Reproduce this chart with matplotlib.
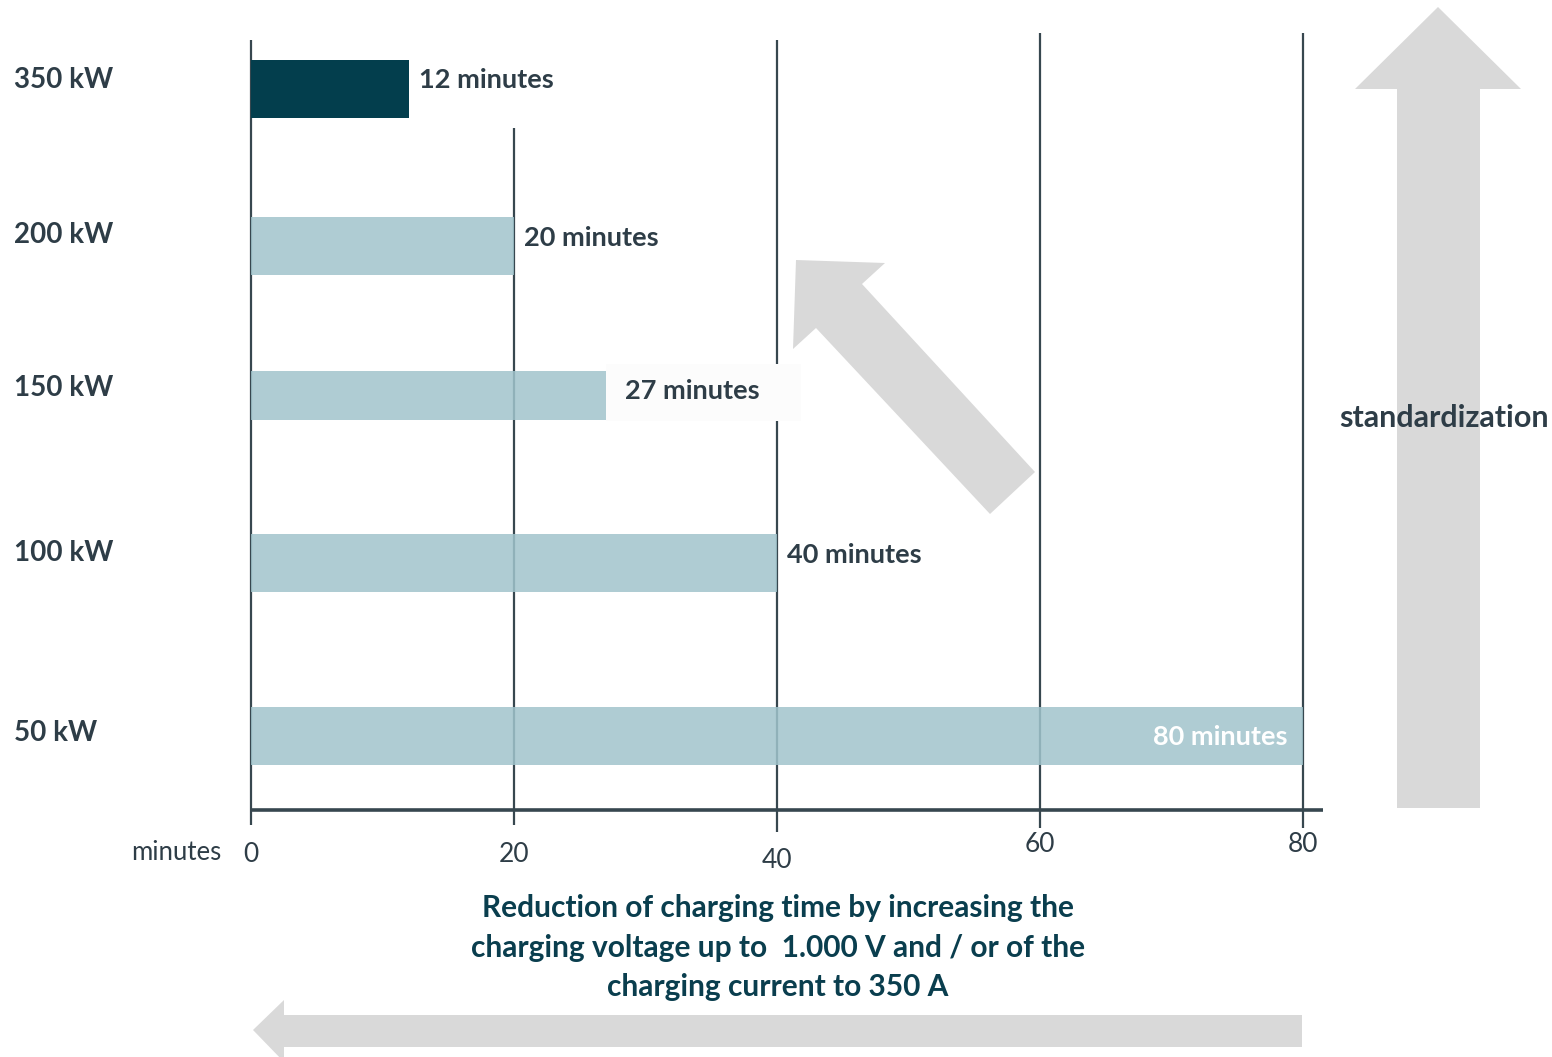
import matplotlib
matplotlib.use("Agg")
import matplotlib.pyplot as plt
from matplotlib.patches import Polygon, Rectangle

# ---- data ----
power_levels = ["350 kW", "200 kW", "150 kW", "100 kW", "50 kW"]
charge_minutes = [12, 20, 27, 40, 80]
tick_values = [0, 20, 40, 60, 80]
axis_unit = "minutes"
title_lines = ["Reduction of charging time by increasing the",
               "charging voltage up to  1.000 V and / or of the",
               "charging current to 350 A"]
side_label = "standardization"

# ---- layout (pixel rows, figure is 1552 x 1057) ----
W, H = 1552, 1057
x0_px, x80_px = 251, 1303
row_y = [89, 246, 395, 563, 736]
row_h = [58, 58, 49, 58, 58]
label_y = [80, 238, 391, 555, 737]
cat_y = [80, 235, 388, 553, 733]
grid_top = [40, 128, 40, 33, 33]
grid_bottom = [825, 825, 832, 828, 828]
tick_y = [855, 855, 861, 845, 845]

FONT = "Lato"
TEXT = "#2E3D47"
DARK = "#033E4D"
LIGHT = "#A1C4CC"
GRID = "#37474F"
ARROW = "#D9D9D9"
TITLE = "#0A3E4E"

fig = plt.figure(figsize=(W / 100, H / 100), dpi=100)

# background layer in pixel coordinates for the decorative arrows
deco = fig.add_axes([0, 0, 1, 1], zorder=0)
deco.set_xlim(0, W)
deco.set_ylim(H, 0)
deco.axis("off")

up_arrow = [(1397, 808), (1397, 89), (1355, 89), (1438, 7), (1521, 89),
            (1480, 89), (1480, 808)]
diag_arrow = [(990, 514), (816, 328), (793, 349), (796, 260), (885, 263),
              (862, 284), (1035, 472)]
left_arrow = [(1302, 1015), (284, 1015), (284, 1000), (253, 1030),
              (284, 1062), (284, 1047), (1302, 1047)]
for pts in (up_arrow, diag_arrow, left_arrow):
    deco.add_patch(Polygon(pts, closed=True, facecolor=ARROW, edgecolor="none"))

# chart layer: x in minutes, y in pixel rows
ax = fig.add_axes([0, 0, 1, 1], zorder=1)
ax.patch.set_alpha(0)
ppm = (x80_px - x0_px) / 80
ax.set_xlim(-x0_px / ppm, (W - x0_px) / ppm)
ax.set_ylim(H, 0)
ax.axis("off")

for v, top, bot in zip(tick_values, grid_top, grid_bottom):
    ax.vlines(v, top, bot, color=GRID, lw=1.6, zorder=1)
ax.hlines(810, 0, (1323 - x0_px) / ppm, color=GRID, lw=2.6, zorder=1)

colors = [DARK] + [LIGHT] * (len(charge_minutes) - 1)
alphas = [1.0] + [0.85] * (len(charge_minutes) - 1)
for val, y, h, c, a in zip(charge_minutes, row_y, row_h, colors, alphas):
    ax.barh(y, val, height=h, left=0, color=c, alpha=a, zorder=2)

pad = 10 / ppm
LBL = 19.5
for i, (val, ly) in enumerate(zip(charge_minutes, label_y)):
    txt = f"{val} minutes"
    if i == len(charge_minutes) - 1:
        ax.text(val - 16 / ppm, ly, txt, ha="right", va="center", color="white",
                fontsize=LBL, fontweight="bold", family=FONT, zorder=4)
    elif i == 2:
        # label sits on an off-white box that hides the grid line behind it
        ax.add_patch(Rectangle((val, row_y[i] - 31), 195 / ppm, 57,
                               facecolor="#FCFCFC", edgecolor="none", zorder=3))
        ax.text(val + 19 / ppm, ly, txt, ha="left", va="center", color=TEXT,
                fontsize=LBL, fontweight="bold", family=FONT, zorder=4)
    else:
        ax.text(val + pad, ly, txt, ha="left", va="center", color=TEXT,
                fontsize=LBL, fontweight="bold", family=FONT, zorder=4)

for name, y in zip(power_levels, cat_y):
    deco.text(14, y, name, ha="left", va="center", color=TEXT,
              fontsize=20, fontweight="bold", family=FONT)

for v, ty in zip(tick_values, tick_y):
    ax.text(v, ty, str(v), ha="center", va="center", color=TEXT,
            fontsize=19, family=FONT)
deco.text(221, 853, axis_unit, ha="right", va="center", color=TEXT,
          fontsize=18.5, family=FONT)

for line, y in zip(title_lines, [908, 948, 987]):
    deco.text(778, y, line, ha="center", va="center", color=TITLE,
              fontsize=21.5, fontweight="bold", family=FONT)

deco.text(1444, 418, side_label, ha="center", va="center", color=TEXT,
          fontsize=22, fontweight="bold", family=FONT, zorder=3)

fig.savefig("out.png", dpi=100)
